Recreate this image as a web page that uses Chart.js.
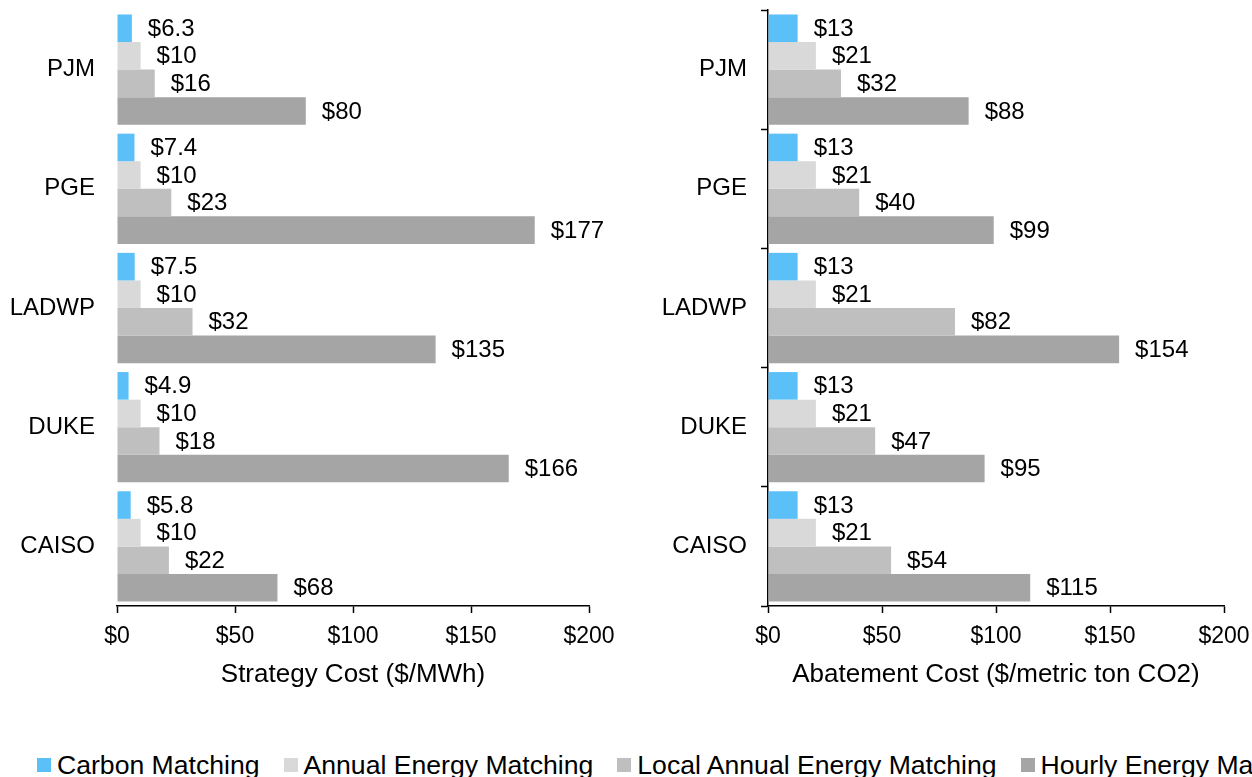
<!DOCTYPE html>
<html lang="en">
<head>
<meta charset="utf-8">
<title>Strategy Cost and Abatement Cost</title>
<script src="https://cdn.jsdelivr.net/npm/chart.js"></script>
<style>
  body { margin: 0; background: #fff; width: 1252px; height: 777px; overflow: hidden;
         font-family: "Liberation Sans", Arial, sans-serif; position: relative; }
  .box { position: absolute; top: 0; width: 626px; height: 700px; }
  #leftBox { left: 0; }
  #rightBox { left: 626px; }
  #legend { position: absolute; left: 37px; top: 750px; width: 1215px; white-space: nowrap;
            overflow: hidden; font-size: 26.6px; line-height: 30px; color: #000; }
  #legend span.sw { display: inline-block; width: 14px; height: 14px; margin-right: 6px; vertical-align: 2px; }
  #legend span.item { margin-right: 24px; }
</style>
</head>
<body>
<div class="box" id="leftBox"><canvas id="leftChart"></canvas></div>
<div class="box" id="rightBox"><canvas id="rightChart"></canvas></div>
<div id="legend"></div>
<script>
// categories (top to bottom)
const regions = ['PJM', 'PGE', 'LADWP', 'DUKE', 'CAISO'];
const seriesNames = ['Carbon Matching', 'Annual Energy Matching', 'Local Annual Energy Matching', 'Hourly Energy Matching'];
const seriesColors = ['#5BC0F8', '#D9D9D9', '#BFBFBF', '#A5A5A5'];

// strategy cost, $/MWh
const costCarbon = [6.3, 7.4, 7.5, 4.9, 5.8];
const costAnnual = [10, 10, 10, 10, 10];
const costLocal  = [16, 23, 32, 18, 22];
const costHourly = [80, 177, 135, 166, 68];

// abatement cost, $/metric ton CO2
const abateCarbon = [13, 13, 13, 13, 13];
const abateAnnual = [21, 21, 21, 21, 21];
const abateLocal  = [32, 40, 82, 47, 54];
const abateHourly = [88, 99, 154, 95, 115];

const xTicks = [0, 50, 100, 150, 200];

const FONT = '"Liberation Sans", Arial, sans-serif';
Chart.defaults.font.family = FONT;
Chart.defaults.color = '#000';

function fmt(v) {
    return v < 10 ? v.toFixed(1) : String(v);
}

// draw "$value" to the right of each bar
const valueLabels = {
    id: 'valueLabels',
    afterDatasetsDraw(chart) {
        const ctx = chart.ctx;
        ctx.save();
        ctx.font = '24px ' + FONT;
        ctx.fillStyle = '#000';
        ctx.textAlign = 'left';
        ctx.textBaseline = 'middle';
        chart.data.datasets.forEach((ds, i) => {
            chart.getDatasetMeta(i).data.forEach((bar, j) => {
                ctx.fillText('$' + fmt(ds.data[j]), bar.x + 16, bar.y + 1);
            });
        });
        ctx.restore();
    }
};

function makeChart(id, sets, title, opts) {
    return new Chart(document.getElementById(id), {
        type: 'bar',
        data: {
            labels: regions,
            datasets: sets.map((d, i) => ({
                label: seriesNames[i],
                data: d,
                backgroundColor: seriesColors[i],
                borderWidth: 0,
                categoryPercentage: 0.925,
                barPercentage: 1.0
            }))
        },
        options: {
            indexAxis: 'y',
            responsive: true,
            maintainAspectRatio: false,
            animation: false,
            layout: { padding: { top: 10, right: opts.padRight, bottom: 0, left: 0 } },
            plugins: { legend: { display: false }, tooltip: { enabled: false } },
            scales: {
                x: {
                    min: 0,
                    max: 200,
                    afterBuildTicks(scale) { scale.ticks = xTicks.map(v => ({ value: v })); },
                    afterFit(scale) {
                        scale.height = 94;
                        scale.paddingLeft = 0;
                        scale.paddingRight = 0;
                    },
                    ticks: { callback: v => '$' + v, font: { size: 23 }, padding: 10, maxRotation: 0 },
                    grid: { drawOnChartArea: false, drawTicks: true, tickLength: 7, tickColor: '#000', tickWidth: 1.5 },
                    border: { display: true, color: '#000', width: 1.5 },
                    title: { display: true, text: title, font: { size: 26 }, padding: { top: 0, bottom: 10 } }
                },
                y: {
                    afterFit(scale) {
                        scale.width = opts.axisLeft;
                        scale.paddingTop = 0;
                        scale.paddingBottom = 0;
                    },
                    ticks: { font: { size: 24 }, padding: opts.labelPad },
                    grid: opts.showAxis
                        ? { drawOnChartArea: false, drawTicks: true, tickLength: 7, tickColor: '#000', tickWidth: 1.5 }
                        : { display: false, drawTicks: false },
                    border: { display: opts.showAxis, color: '#000', width: 1.5 }
                }
            }
        },
        plugins: [valueLabels]
    });
}

makeChart('leftChart', [costCarbon, costAnnual, costLocal, costHourly],
    'Strategy Cost ($/MWh)', { axisLeft: 117, padRight: 37, labelPad: 22, showAxis: false });
makeChart('rightChart', [abateCarbon, abateAnnual, abateLocal, abateHourly],
    'Abatement Cost ($/metric ton CO2)', { axisLeft: 142, padRight: 28, labelPad: 14, showAxis: true });

// legend, clipped at the right edge like the original
const legend = document.getElementById('legend');
seriesNames.forEach((name, i) => {
    const item = document.createElement('span');
    item.className = 'item';
    const sw = document.createElement('span');
    sw.className = 'sw';
    sw.style.background = seriesColors[i];
    item.appendChild(sw);
    item.appendChild(document.createTextNode(name));
    legend.appendChild(item);
});
</script>
</body>
</html>
